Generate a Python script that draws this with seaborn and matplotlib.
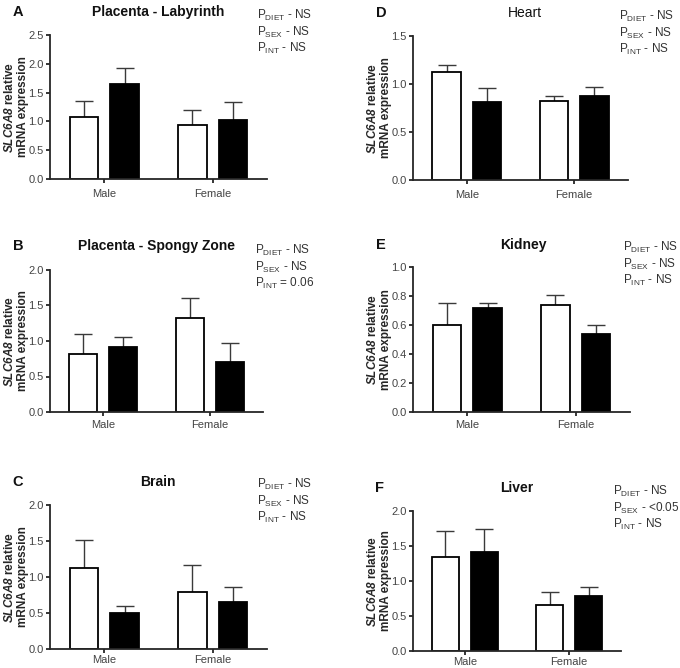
import pandas as pd
import seaborn as sns
import matplotlib.pyplot as plt

# SLC6A8 expression per tissue: [Male, Female] for each diet group
sexes = ['Male', 'Female']
groups = ['Control', 'Diet']

lab_ctrl = [1.08, 0.94]
lab_diet = [1.65, 1.03]
lab_ctrl_err = [0.27, 0.25]
lab_diet_err = [0.27, 0.30]

spongy_ctrl = [0.82, 1.33]
spongy_diet = [0.91, 0.70]
spongy_ctrl_err = [0.28, 0.28]
spongy_diet_err = [0.15, 0.27]

brain_ctrl = [1.12, 0.79]
brain_diet = [0.50, 0.65]
brain_ctrl_err = [0.39, 0.37]
brain_diet_err = [0.10, 0.21]

heart_ctrl = [1.12, 0.82]
heart_diet = [0.81, 0.88]
heart_ctrl_err = [0.08, 0.06]
heart_diet_err = [0.15, 0.09]

kidney_ctrl = [0.60, 0.74]
kidney_diet = [0.72, 0.54]
kidney_ctrl_err = [0.15, 0.07]
kidney_diet_err = [0.03, 0.06]

liver_ctrl = [1.34, 0.66]
liver_diet = [1.41, 0.79]
liver_ctrl_err = [0.37, 0.18]
liver_diet_err = [0.33, 0.12]

sns.set_style('ticks')
plt.rcParams['font.family'] = ['Liberation Sans', 'DejaVu Sans']
plt.rcParams['mathtext.fontset'] = 'custom'
# gene name: letters and digits both bold italic
plt.rcParams['mathtext.rm'] = 'Liberation Sans:italic:bold'
plt.rcParams['mathtext.it'] = 'Liberation Sans:italic:bold'
plt.rcParams['mathtext.sf'] = 'Liberation Sans'

W, H = 680, 668
fig = plt.figure(figsize=(W / 100, H / 100), dpi=100)

panels = [
    # letter, title, bold, ctrl, diet, errs, ymax, step, box(l, r, top, bottom), p-lines, p-pos, title x/y, letter x/y, xpad
    ('A', 'Placenta - Labyrinth', True, lab_ctrl, lab_diet, lab_ctrl_err, lab_diet_err, 2.5, 0.5,
     (50, 267, 35, 179), ['NS', 'NS', 'NS'], (257, 15), (158, 12), (18, 12), 4),
    ('B', 'Placenta - Spongy Zone', True, spongy_ctrl, spongy_diet, spongy_ctrl_err, spongy_diet_err, 2.0, 0.5,
     (50, 263, 270, 412), ['NS', 'NS', '0.06'], (255, 250), (157, 246), (18, 246), 3),
    ('C', 'Brain', True, brain_ctrl, brain_diet, brain_ctrl_err, brain_diet_err, 2.0, 0.5,
     (50, 267, 505, 649), ['NS', 'NS', 'NS'], (257, 484), (158, 482), (18, 482), 1.5),
    ('D', 'Heart', False, heart_ctrl, heart_diet, heart_ctrl_err, heart_diet_err, 1.5, 0.5,
     (413, 628, 36, 180), ['NS', 'NS', 'NS'], (619, 16), (525, 13), (381, 13), 4),
    ('E', 'Kidney', True, kidney_ctrl, kidney_diet, kidney_ctrl_err, kidney_diet_err, 1.0, 0.2,
     (413, 630, 267, 412), ['NS', 'NS', 'NS'], (623, 247), (523, 245), (381, 245), 3),
    ('F', 'Liver', True, liver_ctrl, liver_diet, liver_ctrl_err, liver_diet_err, 2.0, 0.5,
     (413, 621, 511, 651), ['NS', '<0.05', 'NS'], (613, 491), (517, 488), (379, 488), 1),
]

gray = '#3a3a3a'

for (letter, title, bold, ctrl, diet, cerr, derr, ymax, step, box, pvals,
     ppos, tpos, lpos, xpad) in panels:
    l, r, t, b = box
    ax = fig.add_axes([l / W, 1 - b / H, (r - l) / W, (b - t) / H])

    df = pd.DataFrame({
        'sex': sexes * 2,
        'diet': [groups[0]] * 2 + [groups[1]] * 2,
        'value': ctrl + diet,
    })
    sns.barplot(data=df, x='sex', y='value', hue='diet', order=sexes, hue_order=groups,
                palette={'Control': 'white', 'Diet': 'black'}, edgecolor='black',
                linewidth=1.3, errorbar=None, width=0.75, gap=0.3, legend=False, ax=ax)

    for cont, errs in zip(ax.containers, [cerr, derr]):
        xs = [p.get_x() + p.get_width() / 2 for p in cont.patches]
        ys = [p.get_height() for p in cont.patches]
        eb = ax.errorbar(xs, ys, yerr=[[0] * len(errs), errs], fmt='none',
                         ecolor=gray, elinewidth=1.0, capsize=6.5, capthick=1.0, zorder=0.5)
        eb[1][0].set_visible(False)

    ax.set_xlim(-0.5, 1.5)
    ax.set_ylim(0, ymax)
    n = int(round(ymax / step))
    ticks = [i * step for i in range(n + 1)]
    ax.set_yticks(ticks)
    ax.set_yticklabels(['%.1f' % v for v in ticks])
    ax.set_xlabel('')
    ax.set_ylabel(r'$SLC6A8$ relative' + '\nmRNA expression', fontsize=8.5,
                  fontweight='bold', linespacing=1.1)
    ax.yaxis.set_label_coords(-21 / (r - l), 0.5)
    sns.despine(ax=ax)
    for s in ['left', 'bottom']:
        ax.spines[s].set_linewidth(1.3)
    ax.tick_params(axis='both', labelsize=8, labelcolor='#444444', length=3, width=1.1,
                   color='black')
    ax.tick_params(axis='y', pad=1.5)
    ax.tick_params(axis='x', pad=xpad)

    fig.text(tpos[0] / W, 1 - tpos[1] / H, title, ha='center', va='center', fontsize=10,
             fontweight='bold' if bold else 'normal', color='#111111')
    fig.text(lpos[0] / W, 1 - lpos[1] / H, letter, ha='center', va='center', fontsize=10.5,
             fontweight='bold', color='#111111')

    names = ['DIET', 'SEX', 'INT']
    for i, (nm, pv) in enumerate(zip(names, pvals)):
        sep = ' = ' if pv == '0.06' else ' - '
        s = r'P$_{\mathsf{%s}}$%s%s' % (nm, sep, pv)
        fig.text(ppos[0] / W, 1 - (ppos[1] + 4 + i * 16.5) / H, s, ha='left', va='baseline',
                 fontsize=8.5, color='#333333')

fig.savefig('out.png', dpi=100)
